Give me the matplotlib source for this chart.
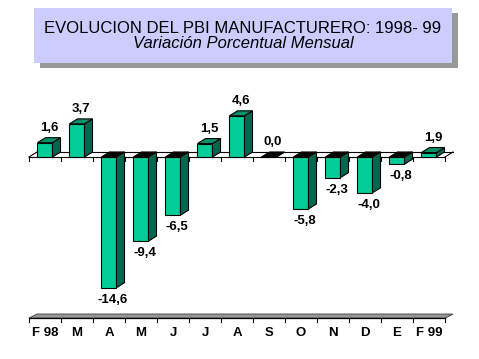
import numpy as np
import matplotlib.pyplot as plt
from matplotlib.patches import Polygon, Rectangle

# Data
meses = ['F 98', 'M', 'A', 'M', 'J', 'J', 'A', 'S', 'O', 'N', 'D', 'E', 'F 99']
variacion = [1.6, 3.7, -14.6, -9.4, -6.5, 1.5, 4.6, 0.0, -5.8, -2.3, -4.0, -0.8, 0.5]
etiquetas = ['1,6', '3,7', '-14,6', '-9,4', '-6,5', '1,5', '4,6', '0,0',
             '-5,8', '-2,3', '-4,0', '-0,8', '1,9']

titulo = 'EVOLUCION DEL PBI MANUFACTURERO: 1998- 99'
subtitulo = 'Variación Porcentual Mensual'

# Layout (pixels)
W, H = 479, 359
zero_px, ppu = 157, 8.95      # zero line position and pixels per unit
x0_px, step = 45, 32          # first category centre and category spacing

front = '#00CC99'
side = '#006650'
top = '#00906C'

fig = plt.figure(figsize=(W / 100, H / 100), dpi=100)
ax = fig.add_axes([0, 0, 1, 1])
ax.set_xlim(-x0_px / step, (W - x0_px) / step)
ax.set_ylim(-(H - zero_px) / ppu, zero_px / ppu)
ax.axis('off')

x = np.arange(len(meses))
v = np.array(variacion)
w = 15 / step
dx, dy = 8 / step, 5 / ppu
tick = 3.5 / ppu
floor = -18.0

# zero plane outline
xl, xr = -0.5, len(meses) - 0.5
ax.plot([xl, xr], [0, 0], color='k', lw=0.8, zorder=1)
ax.plot([xl + dx, xr + dx], [dy, dy], color='k', lw=0.8, zorder=1)
ax.plot([xl, xl + dx], [0, dy], color='k', lw=0.8, zorder=1)
ax.plot([xr, xr + dx], [0, dy], color='k', lw=0.8, zorder=1)
for b in np.arange(xl, xr + 0.01, 1):
    ax.plot([b, b], [0, -tick], color='k', lw=0.8, zorder=1)

# floor slab
ax.add_patch(Polygon([(xl, floor), (xr, floor), (xr + dx, floor + dy * 0.8),
                      (xl + dx, floor + dy * 0.8)], closed=True,
                     facecolor='#999999', edgecolor='#555555', lw=0.8, zorder=1))
ax.plot([xl, xr], [floor, floor], color='k', lw=0.9, zorder=2)
for b in np.arange(xl, xr + 0.01, 1):
    ax.plot([b, b], [floor, floor - tick], color='k', lw=0.8, zorder=2)

# bars: front faces
ax.bar(x, v, width=w, color=front, edgecolor='k', linewidth=0.8, zorder=3)

# side and top faces
for xi, vi in zip(x, v):
    l, r = xi - w / 2, xi + w / 2
    ytop = max(vi, 0)
    ax.add_patch(Polygon([(r, 0), (r + dx, dy), (r + dx, vi + dy), (r, vi)],
                         closed=True, facecolor=side, edgecolor='k', lw=0.8, zorder=3))
    ax.add_patch(Polygon([(l, ytop), (r, ytop), (r + dx, ytop + dy), (l + dx, ytop + dy)],
                         closed=True, facecolor=top if vi > 0 else 'k',
                         edgecolor='k', lw=0.8, zorder=4))

# value labels
for xi, vi, txt in zip(x, v, etiquetas):
    if vi >= 0:
        ax.text(xi + dx / 2, vi + dy + 1.1, txt, ha='center', va='center',
                fontsize=9.5, fontweight='bold', family='Liberation Sans', zorder=5)
    else:
        ax.text(xi + dx / 2, vi - 1.35, txt, ha='center', va='center',
                fontsize=9.5, fontweight='bold', family='Liberation Sans', zorder=5)

# category labels
for xi, m in zip(x, meses):
    ax.text(xi, floor - 1.7, m, ha='center', va='center', fontsize=9.5,
            fontweight='bold', family='Liberation Sans')

# title box with shadow
bx0, bx1, by0, by1 = 34, 452, 8, 63
fig.patches.append(Rectangle(((bx0 + 6) / W, 1 - (by1 + 5) / H), (bx1 - bx0) / W,
                             (by1 - by0) / H, transform=fig.transFigure,
                             facecolor='#999999', edgecolor='none', zorder=0))
fig.patches.append(Rectangle((bx0 / W, 1 - by1 / H), (bx1 - bx0) / W,
                             (by1 - by0) / H, transform=fig.transFigure,
                             facecolor='#CCCCFF', edgecolor='none', zorder=1))
fig.text(243 / W, 1 - 33 / H, titulo, ha='center', va='baseline', fontsize=12,
         family='Liberation Sans')
fig.text(243 / W, 1 - 48.5 / H, subtitulo, ha='center', va='baseline', fontsize=12,
         style='italic', family='Liberation Sans')

fig.savefig('out.png', dpi=100)
